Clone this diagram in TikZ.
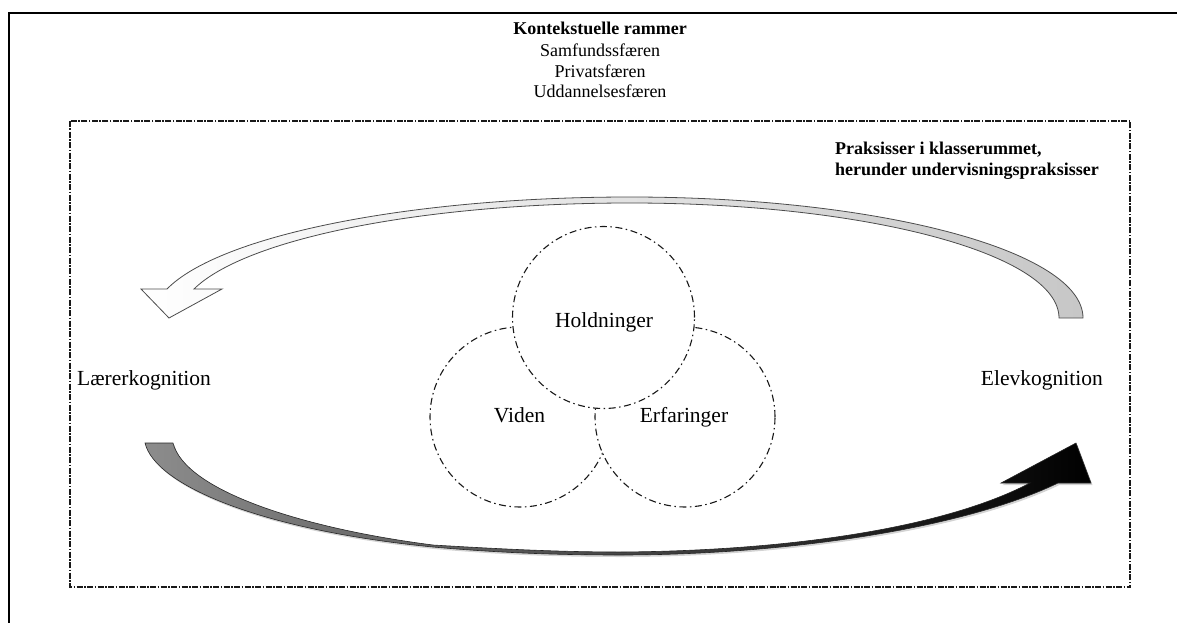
\documentclass[tikz,border=0pt]{standalone}
\usepackage{fontspec}
\setmainfont{Liberation Serif}
\usetikzlibrary{shadows}
\begin{document}
\begin{tikzpicture}[x=1pt,y=-1pt,
  circ/.style={circle, draw=black!90, line width=1.1pt, fill=white,
    dash pattern=on 7pt off 3.5pt on 1.5pt off 3.5pt, inner sep=0pt, minimum size=180pt},
  lbl/.style={font=\fontsize{21.5}{24}\selectfont, inner sep=0pt},
  ctx/.style={font=\fontsize{18}{21}\selectfont, inner sep=0pt, anchor=base},
  ctxb/.style={font=\fontsize{18}{21}\selectfont\bfseries, inner sep=0pt},
  innerframe/.style={draw=black!90, line width=1.2pt,
    dash pattern=on 6pt off 1.5pt on 1.5pt off 1.5pt},
  toparrow/.style={draw=black!70, line width=0.8pt, left color=white, right color=black!22},
  botarrow/.style={draw=black!85, line width=0.6pt, left color=black!45, right color=black,
    drop shadow={opacity=0.35, shadow xshift=1.5pt, shadow yshift=-2pt}}]
\useasboundingbox (0,0) rectangle (1177,623);
% outer frame
\draw[line width=1.5pt] (9,623) -- (9,13) -- (1177,13);
% inner dashed frame
\draw[innerframe] (70,121) rectangle (1130,587);
% title
\node[ctxb, anchor=base] (title) at (600,35) {Kontekstuelle rammer};
\node[ctx] (samf) at (600,56.5) {Samfundssfæren};
\node[ctx] (priv) at (600,77.5) {Privatsfæren};
\node[ctx] (udd) at (600,98) {Uddannelsesfæren};
% praksis
\node[ctxb, anchor=base west] (prak1) at (835,154) {Praksisser i klasserummet,};
\node[ctxb, anchor=base west] (prak2) at (835,175) {herunder undervisningspraksisser};
% cognition labels
\node[lbl, anchor=base west] (laerer) at (77,385) {Lærerkognition};
\node[lbl, anchor=base east] (elev) at (1103,385) {Elevkognition};
% top arrow (from Elevkognition back to Lærerkognition)
\path[toparrow] (1083,318) .. controls (1083,251) and (880,197) .. (630,197)
  .. controls (411,197) and (220,235) .. (167,289)
  -- (141,289) -- (169,318) -- (222,289) -- (194,289)
  .. controls (246,238) and (425,203) .. (630,203)
  .. controls (867,203) and (1059,254) .. (1059,318) -- cycle;
% bottom arrow (from Lærerkognition to Elevkognition)
\path[botarrow] (145,443) -- (173,443)
  .. controls (185,490) and (300,528) .. (433,545)
  .. controls (500,549) and (560,552) .. (620,552)
  .. controls (780,551) and (940,530) .. (1030,483)
  -- (1001,483) -- (1076,443) -- (1091,483) -- (1058,483)
  .. controls (960,530) and (780,555) .. (620,555)
  .. controls (560,555) and (500,553) .. (433,547)
  .. controls (260,530) and (155,485) .. (145,443) -- cycle;
% circles
\node[circ] (viden) at (520,417) {};
\node[circ] (erfar) at (685,417) {};
\node[circ, minimum size=182pt] (hold) at (603.5,317.5) {};
\node[lbl, anchor=base] (holdt) at (604,327) {Holdninger};
\node[lbl, anchor=base] (vident) at (519.5,422) {Viden};
\node[lbl, anchor=base] (erfart) at (684,422) {Erfaringer};
\end{tikzpicture}
\end{document}
